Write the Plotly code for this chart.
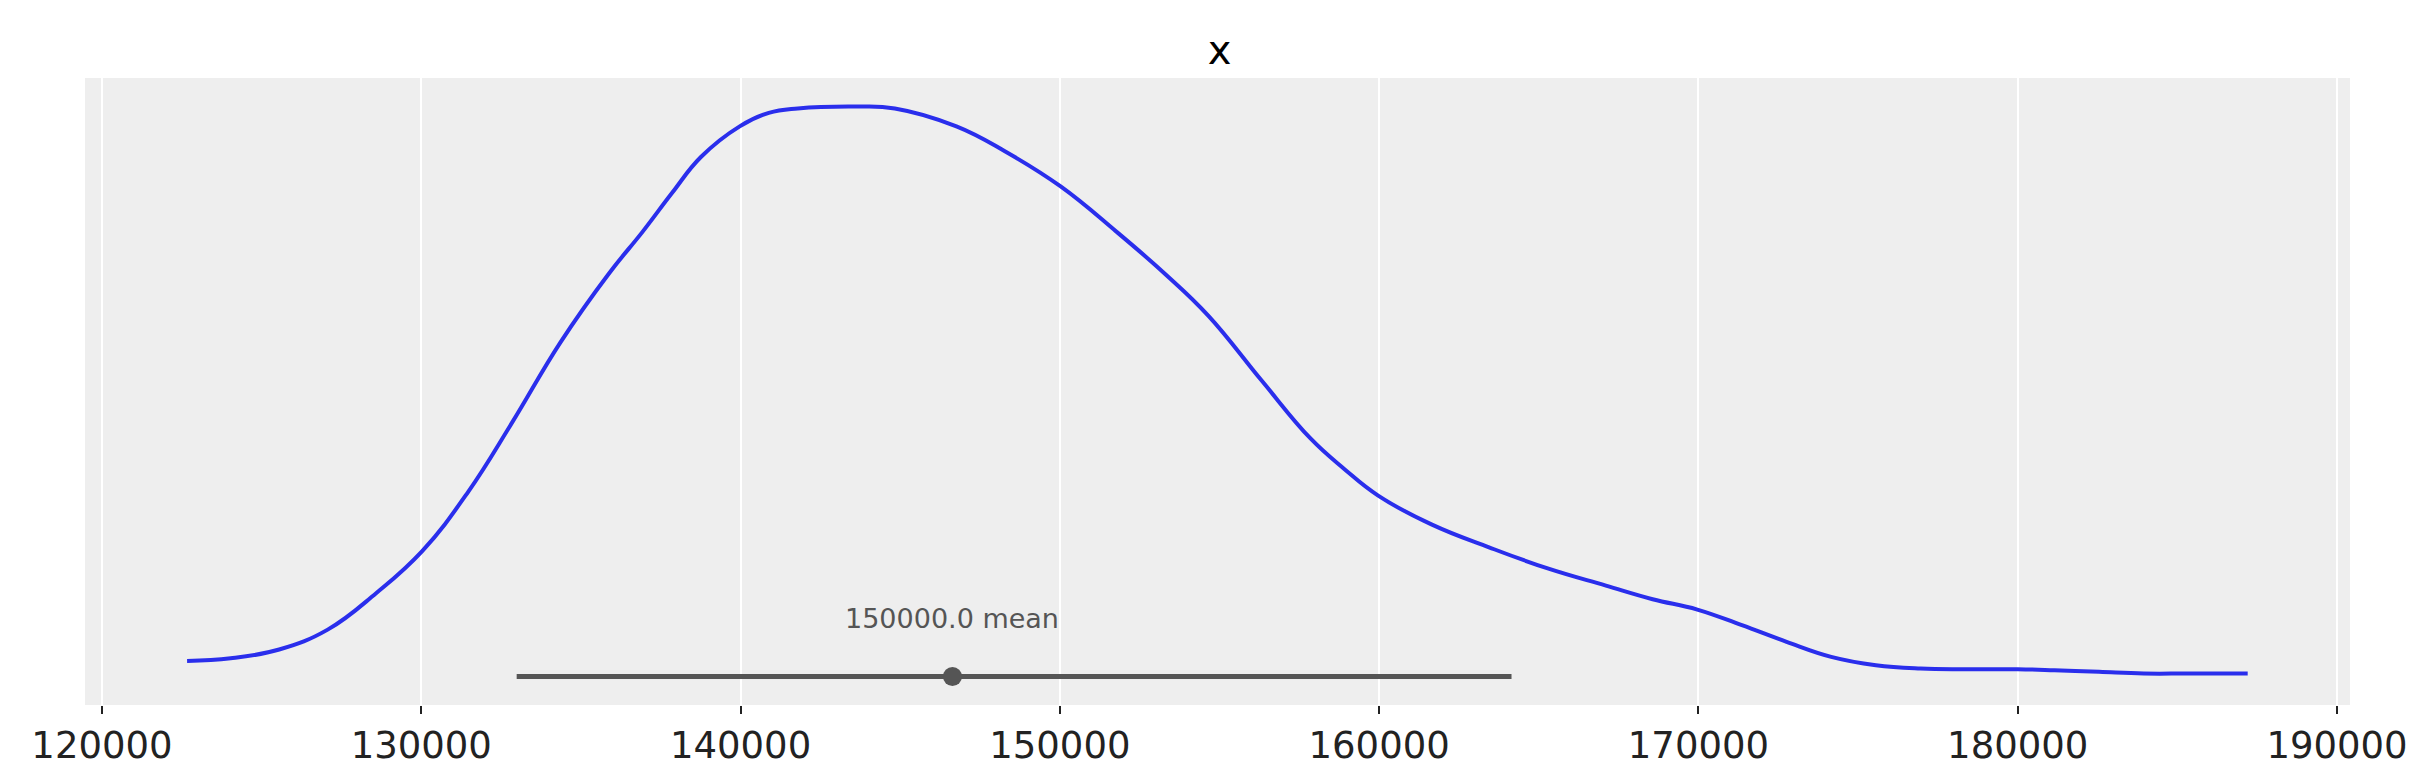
import plotly.graph_objects as go

# KDE curve
kde_x = [122665, 124031, 125550, 127069, 128585, 130029, 131469, 132838, 134354, 135873,
         136935, 137846, 138758, 139973, 140884, 141793, 143616, 144831, 146761, 148277,
         150025, 151769, 153288, 154654, 156326, 157842, 158907, 159969, 161638, 163461,
         165280, 167103, 168565, 169965, 171361, 172761, 174158, 175558, 176955, 178352,
         180002, 181149, 182548, 183946, 185345, 187203]
kde_y = [0.0466, 0.0512, 0.0664, 0.1006, 0.1632, 0.2356, 0.3375, 0.4560, 0.5941, 0.7125,
         0.7849, 0.8508, 0.9132, 0.9659, 0.9890, 0.9967, 1.0000, 0.9967, 0.9659, 0.9231,
         0.8626, 0.7849, 0.7125, 0.6401, 0.5284, 0.4297, 0.3769, 0.3310, 0.2815, 0.2417,
         0.2058, 0.1762, 0.1529, 0.1351, 0.1082, 0.0796, 0.0538, 0.0394, 0.0337, 0.0325,
         0.0325, 0.0308, 0.0280, 0.0251, 0.0251, 0.0251]

hdi = [132988, 164146]
point_est = 146637
point_label = "150000.0 mean"
title = "x"

max_data = max(kde_y)
hdi_y = max_data * 0.02
text_y = max_data * 0.12

fig = go.Figure()

fig.add_trace(go.Scatter(x=kde_x, y=kde_y, mode='lines',
                         line=dict(color='#2a2eec', width=4, shape='spline', smoothing=1.2),
                         hoverinfo='skip'))

fig.add_trace(go.Scatter(x=hdi, y=[hdi_y, hdi_y], mode='lines',
                         line=dict(color='#555555', width=5), hoverinfo='skip'))

fig.add_trace(go.Scatter(x=[point_est], y=[hdi_y], mode='markers',
                         marker=dict(color='#555555', size=19), hoverinfo='skip'))

fig.add_annotation(x=point_est, y=text_y, text=point_label, showarrow=False,
                   font=dict(family='DejaVu Sans', size=27, color='#555555'))

fig.update_layout(
    width=2423, height=773,
    margin=dict(l=77, r=81, t=70, b=76),
    paper_bgcolor='white',
    plot_bgcolor='#eeeeee',
    showlegend=False,
    title=dict(text=title, x=0.5, xanchor='center', y=1 - 42 / 773, yanchor='middle',
               font=dict(family='DejaVu Sans', size=40, color='black')),
    font=dict(family='DejaVu Sans'),
)

fig.update_xaxes(range=[119468, 190407], tick0=0, dtick=10000, tickformat='d',
                 showgrid=True, gridcolor='white', gridwidth=2, zeroline=False,
                 ticks='outside', ticklen=8, tickwidth=2, tickcolor='#222222',
                 tickfont=dict(family='DejaVu Sans', size=37, color='#222222'),
                 showline=False)
fig.update_yaxes(range=[-0.029, 1.049], showgrid=False, zeroline=False,
                 showticklabels=False, ticks='', showline=False)

fig.write_html("out.html")
